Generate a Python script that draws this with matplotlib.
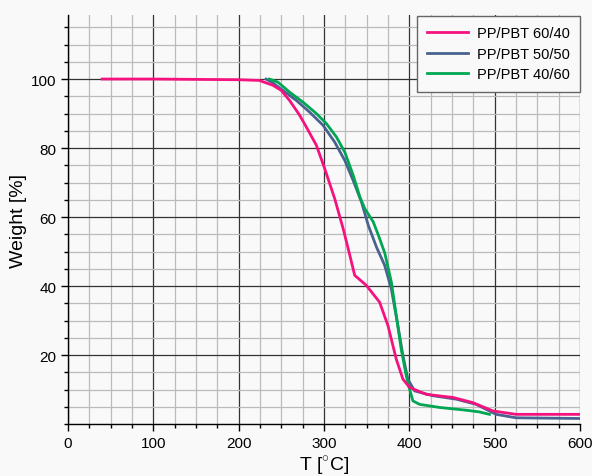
import matplotlib.pyplot as plt
from matplotlib.ticker import MultipleLocator

plt.rcParams["font.family"] = ["Liberation Sans", "DejaVu Sans"]
plt.rcParams["mathtext.fontset"] = "custom"
plt.rcParams["mathtext.rm"] = "Liberation Sans"

# PP/PBT 60/40
t_6040 = [40, 100, 200, 224, 240, 249.8, 259.6, 271.4, 279.2, 291, 300.8, 312.5,
          322.4, 330.2, 335.9, 349.5, 365.1, 374.9, 384.6, 392.4, 400.2, 419.7,
          450.9, 474.3, 497.7, 524.9, 600]
w_6040 = [100, 100, 99.8, 99.6, 98.2, 96.7, 93.8, 89.5, 86.1, 80.8, 74.0, 65.3,
          56.6, 48.9, 43.1, 40.2, 35.3, 28.5, 18.8, 13.0, 10.6, 8.6,
          7.7, 6.2, 3.8, 2.8, 2.8]

# PP/PBT 50/50
t_5050 = [232, 240, 251.8, 267.5, 283.1, 298.8, 312.5, 324.3, 334.1, 343.9,
          351.8, 361.4, 371, 378.8, 386.5, 392.4, 398.2, 406, 427.5, 454.8,
          478.2, 501.6, 525, 600]
w_5050 = [100, 98.9, 96.7, 93.8, 90.4, 86.6, 81.7, 76.4, 70.6, 64.3,
          57.6, 51.3, 46.0, 39.2, 28.5, 19.8, 13.0, 9.6, 8.2, 7.2,
          5.7, 2.8, 1.8, 1.6]

# PP/PBT 40/60
t_4060 = [236, 245.9, 259.6, 275.3, 291, 302.7, 314.5, 324.3, 334.1, 342,
          347.8, 357.6, 364, 371.2, 378.8, 384.6, 390.4, 396.3, 400.2, 404.1,
          411.9, 435.3, 466.5, 482, 493.8]
w_4060 = [100, 99.1, 96.2, 93.3, 90.0, 87.1, 83.2, 78.8, 72.1, 65.8,
          62.4, 58.6, 54.5, 49.5, 41.2, 31.5, 21.7, 14.0, 10.1, 6.7,
          5.7, 4.8, 4.0, 3.5, 2.8]

BG = "#f9f9f9"

fig = plt.figure(figsize=(5.92, 4.77), dpi=100, facecolor=BG)
ax = fig.add_axes([0.1149, 0.109, 0.865, 0.857], facecolor=BG)

ax.plot(t_6040, w_6040, color="#f5127f", lw=2.0, label="PP/PBT 60/40", zorder=4)
ax.plot(t_5050, w_5050, color="#4a6290", lw=2.0, label="PP/PBT 50/50", zorder=3)
ax.plot(t_4060, w_4060, color="#00a651", lw=2.0, label="PP/PBT 40/60", zorder=3)

ax.set_xlim(0, 600)
ax.set_ylim(0, 118.5)
ax.xaxis.set_major_locator(MultipleLocator(100))
ax.xaxis.set_minor_locator(MultipleLocator(25))
ax.yaxis.set_minor_locator(MultipleLocator(5))
ax.set_yticks([20, 40, 60, 80, 100])

ax.grid(which="major", color="#333333", lw=0.9)
ax.grid(which="minor", color="#bbbbbb", lw=0.9)
ax.set_axisbelow(True)

for side in ("top", "right"):
    ax.spines[side].set_visible(False)
for side in ("left", "bottom"):
    ax.spines[side].set_color("black")
    ax.spines[side].set_linewidth(1.0)

ax.tick_params(which="major", length=5, width=1, labelsize=11, color="black")
ax.tick_params(which="minor", length=3, width=1, color="black")

ax.set_xlabel("T [$^{\\circ}$C]", fontsize=14, labelpad=2)
ax.set_ylabel("Weight [%]", fontsize=14, labelpad=3)

leg = ax.legend(loc="upper right", bbox_to_anchor=(1.0, 0.998), fontsize=10.5,
                fancybox=False, framealpha=1, edgecolor="#666666", facecolor=BG,
                handlelength=2.8, handletextpad=0.6, borderaxespad=0,
                borderpad=0.7, labelspacing=0.45)
leg.get_frame().set_linewidth(1.0)

fig.savefig("out.png", dpi=100, facecolor=BG)
